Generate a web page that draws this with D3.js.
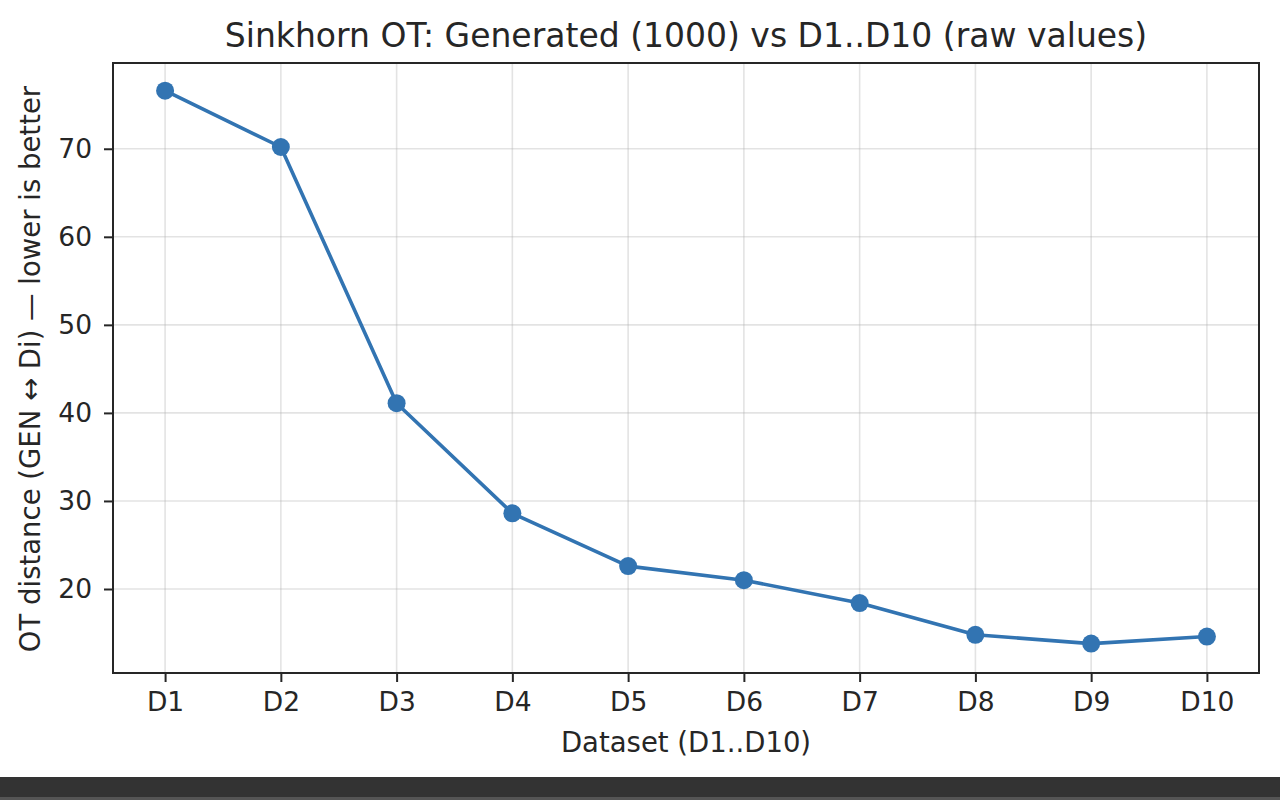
<!DOCTYPE html>
<html>
<head>
<meta charset="utf-8">
<script src="https://cdn.jsdelivr.net/npm/d3@7"></script>
<style>
  html, body { margin: 0; padding: 0; background: #fff; }
  svg { display: block; }
  text { font-family: "DejaVu Sans", sans-serif; fill: #262626; }
</style>
</head>
<body>
<svg id="chart" width="1280" height="800"></svg>
<script>
// dataset labels and OT distances
let datasets = ['D1', 'D2', 'D3', 'D4', 'D5', 'D6', 'D7', 'D8', 'D9', 'D10'];
let otValues = [76.6, 70.2, 41.1, 28.6, 22.6, 21.0, 18.4, 14.8, 13.8, 14.6];
let yTicks = [20, 30, 40, 50, 60, 70];

let svg = d3.select('#chart');
let margin = { left: 113, right: 1259, top: 63, bottom: 673 };
let lineColor = '#3274b2';

// matplotlib-style 5% padding on both axes
let x = d3.scaleLinear()
  .domain([-0.45, datasets.length - 1 + 0.45])
  .range([margin.left, margin.right]);

let lo = d3.min(otValues), hi = d3.max(otValues);
let pad = (hi - lo) * 0.05;
let y = d3.scaleLinear()
  .domain([lo - pad - 0.2, hi + pad])
  .range([margin.bottom, margin.top]);

// grid
let grid = svg.append('g').attr('class', 'grid');
grid.selectAll('line.gx')
  .data(datasets)
  .enter().append('line')
  .attr('x1', (d, i) => x(i)).attr('x2', (d, i) => x(i))
  .attr('y1', margin.top).attr('y2', margin.bottom)
  .attr('stroke', '#b0b0b0').attr('stroke-opacity', 0.35).attr('stroke-width', 1.6);
grid.selectAll('line.gy')
  .data(yTicks)
  .enter().append('line')
  .attr('x1', margin.left).attr('x2', margin.right)
  .attr('y1', d => y(d)).attr('y2', d => y(d))
  .attr('stroke', '#b0b0b0').attr('stroke-opacity', 0.35).attr('stroke-width', 1.6);

// axes
let xAxis = d3.axisBottom(x)
  .tickValues(d3.range(datasets.length))
  .tickFormat(i => datasets[i])
  .tickSize(9).tickPadding(10).tickSizeOuter(0);
let yAxis = d3.axisLeft(y)
  .tickValues(yTicks)
  .tickSize(9).tickPadding(12).tickSizeOuter(0);

let gx = svg.append('g')
  .attr('transform', `translate(0,${margin.bottom})`)
  .call(xAxis);
let gy = svg.append('g')
  .attr('transform', `translate(${margin.left},0)`)
  .call(yAxis);

[gx, gy].forEach(g => {
  g.select('.domain').remove();
  g.selectAll('.tick line').attr('stroke', '#262626').attr('stroke-width', 2);
  g.selectAll('.tick text')
    .attr('font-family', '"DejaVu Sans", sans-serif')
    .attr('font-size', 26.5).attr('fill', '#262626');
});

// frame
svg.append('rect')
  .attr('x', margin.left).attr('y', margin.top)
  .attr('width', margin.right - margin.left)
  .attr('height', margin.bottom - margin.top)
  .attr('fill', 'none').attr('stroke', '#262626').attr('stroke-width', 2);

// series
let line = d3.line()
  .x((d, i) => x(i))
  .y(d => y(d));

svg.append('path')
  .datum(otValues)
  .attr('d', line)
  .attr('fill', 'none')
  .attr('stroke', lineColor)
  .attr('stroke-width', 3.6)
  .attr('stroke-linejoin', 'round');

svg.selectAll('circle.pt')
  .data(otValues)
  .enter().append('circle')
  .attr('class', 'pt')
  .attr('cx', (d, i) => x(i))
  .attr('cy', d => y(d))
  .attr('r', 9)
  .attr('fill', lineColor);

// labels
svg.append('text')
  .attr('x', (margin.left + margin.right) / 2).attr('y', 35)
  .attr('text-anchor', 'middle').attr('dominant-baseline', 'central')
  .attr('font-size', 33)
  .text('Sinkhorn OT: Generated (1000) vs D1..D10 (raw values)');

svg.append('text')
  .attr('x', (margin.left + margin.right) / 2).attr('y', 742)
  .attr('text-anchor', 'middle').attr('dominant-baseline', 'central')
  .attr('font-size', 27.5)
  .text('Dataset (D1..D10)');

svg.append('text')
  .attr('transform', `translate(30,${(margin.top + margin.bottom) / 2 + 1}) rotate(-90)`)
  .attr('text-anchor', 'middle').attr('dominant-baseline', 'central')
  .attr('font-size', 27.5)
  .text('OT distance (GEN \u2194 Di) \u2014 lower is better');

// window strip along the bottom of the screenshot
svg.append('rect')
  .attr('x', 0).attr('y', 777).attr('width', 1280).attr('height', 23)
  .attr('fill', '#333333');
svg.append('rect')
  .attr('x', 0).attr('y', 797).attr('width', 1280).attr('height', 3)
  .attr('fill', '#555555');
</script>
</body>
</html>
